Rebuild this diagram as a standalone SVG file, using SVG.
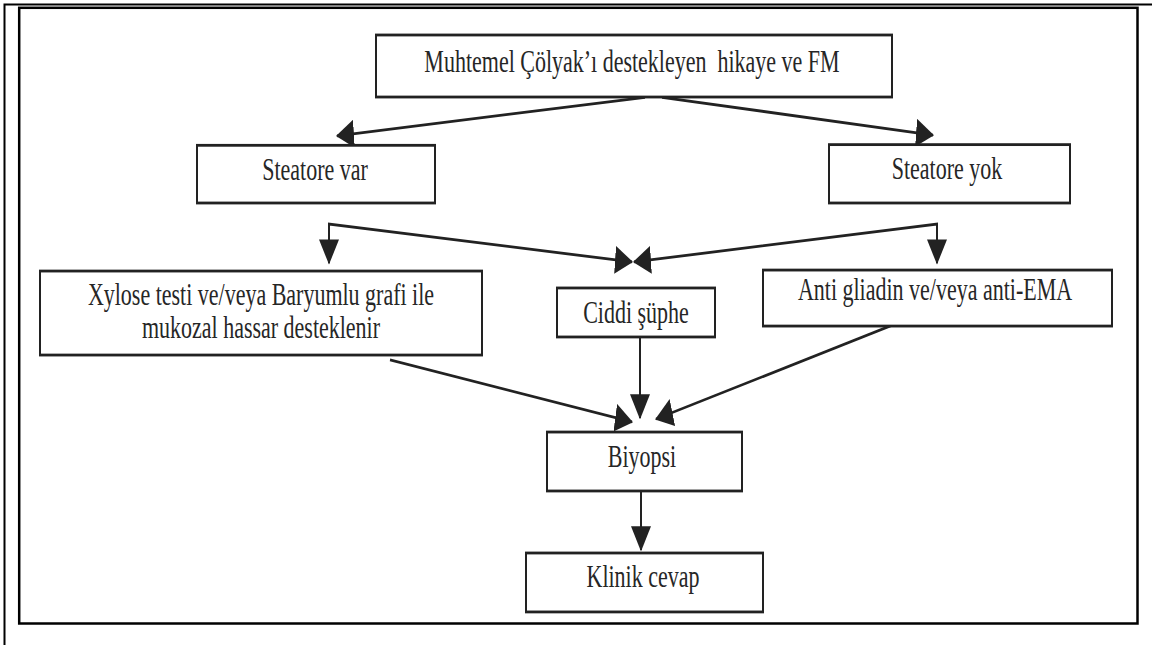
<svg xmlns="http://www.w3.org/2000/svg" width="1152" height="645" viewBox="0 0 1152 645">
  <style>
    .box { fill: #ffffff; stroke: #222222; stroke-width: 2; }
    .lbl { font-family: "Liberation Serif", "Times New Roman", serif; font-size: 22px; fill: #262626; text-anchor: middle; }
    .conn { fill: none; stroke: #222222; stroke-width: 2; }
    .frame { fill: none; stroke: #000000; }
  </style>
  <defs>
    <marker id="arr" markerUnits="userSpaceOnUse" viewBox="0 0 18 20" markerWidth="18" markerHeight="20" refX="17" refY="10" orient="auto-start-reverse">
      <path d="M0,0 L18,10 L0,20 Z" fill="#222222"/>
    </marker>
  </defs>
  <rect width="1152" height="645" fill="#ffffff"/>
  <g id="frame">
    <path class="frame" stroke-width="2" d="M4.5,645 V4.5 H1152"/>
    <rect class="frame" stroke-width="2.5" x="19.2" y="7.8" width="1118.3" height="615.7"/>
  </g>
  <g id="diagram" transform="scale(1,1.4)">
    <g id="connectors">
      <path class="conn" marker-end="url(#arr)" d="M645,69.5 L337,97"/>
      <path class="conn" marker-end="url(#arr)" d="M662,69.5 L933,96.5"/>
      <path class="conn" marker-start="url(#arr)" marker-end="url(#arr)" d="M632,187.1 L329,160 L329,188"/>
      <path class="conn" marker-start="url(#arr)" marker-end="url(#arr)" d="M634,187.1 L937,160 L937,188"/>
      <path class="conn" marker-end="url(#arr)" d="M390,257.1 L632,301.4"/>
      <path class="conn" marker-end="url(#arr)" d="M640,240.7 L640,298.6"/>
      <path class="conn" marker-end="url(#arr)" d="M893,232.1 L656,299.3"/>
      <path class="conn" marker-end="url(#arr)" d="M641,350.7 L641,392.9"/>
    </g>
    <g id="n-top">
      <rect class="box" x="376" y="25" width="516" height="44.3"/>
      <text class="lbl" x="632" y="51.4" style="white-space:pre">Muhtemel Çölyak’ı destekleyen  hikaye ve FM</text>
    </g>
    <g id="n-steatore-var">
      <rect class="box" x="197" y="103.8" width="238" height="41.2"/>
      <text class="lbl" x="315" y="128.4">Steatore var</text>
    </g>
    <g id="n-steatore-yok">
      <rect class="box" x="829" y="103.3" width="241" height="41.7"/>
      <text class="lbl" x="947" y="127.6">Steatore yok</text>
    </g>
    <g id="n-xylose">
      <rect class="box" x="40" y="193.6" width="442" height="60"/>
      <text class="lbl" x="261" y="217.9">Xylose testi ve/veya Baryumlu grafi ile</text>
      <text class="lbl" x="261" y="241.4">mukozal hassar desteklenir</text>
    </g>
    <g id="n-ciddi">
      <rect class="box" x="557" y="205.7" width="158" height="35"/>
      <text class="lbl" x="636" y="230.8">Ciddi şüphe</text>
    </g>
    <g id="n-anti">
      <rect class="box" x="763" y="192.9" width="349" height="40"/>
      <text class="lbl" x="935" y="214.3">Anti gliadin ve/veya anti-EMA</text>
    </g>
    <g id="n-biyopsi">
      <rect class="box" x="547" y="308.6" width="195" height="42.1"/>
      <text class="lbl" x="642" y="333.6">Biyopsi</text>
    </g>
    <g id="n-klinik">
      <rect class="box" x="526" y="395" width="237" height="42.1"/>
      <text class="lbl" x="643" y="419.3">Klinik cevap</text>
    </g>
  </g>
</svg>
